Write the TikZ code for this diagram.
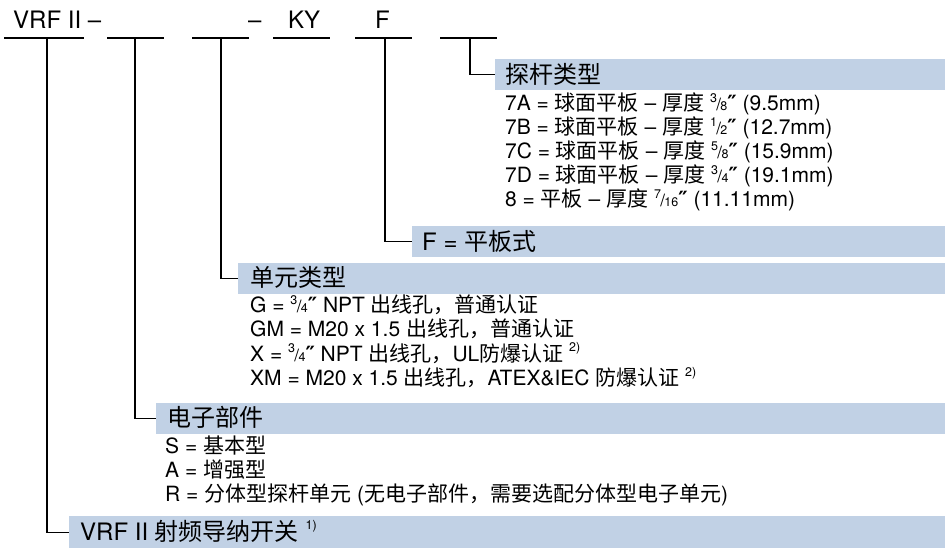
\documentclass[tikz,border=0pt]{standalone}
\usepackage{fontspec}
\setmainfont{TeX Gyre Heros}
\newfontfamily\cjk{Noto Sans CJK SC}
\newfontfamily\dvfont{DejaVu Sans}
\newcommand{\zh}[1]{{\cjk #1}}
\newcommand{\dqm}{{\dvfont\bfseries ″}}
\newcommand{\frc}[2]{\raisebox{0.4em}{\fontsize{12.5}{12.5}\selectfont #1}\kern-0.03em{\fontsize{17}{17}\selectfont /}\kern-0.03em{\fontsize{12.5}{12.5}\selectfont #2}}
\newcommand{\fnote}[1]{\raisebox{0.45em}{\fontsize{12.5}{12.5}\selectfont #1}}
\definecolor{barblue}{RGB}{193,209,229}
\begin{document}
\begin{tikzpicture}[x=1pt,y=-1pt,
  conn/.style={line width=1.3pt, black},
  bar/.style={fill=barblue, draw=none, anchor=north west, minimum height=31pt, inner sep=0pt},
  head/.style={anchor=base west, inner sep=0pt, font=\fontsize{24}{24}\selectfont},
  item/.style={anchor=base west, inner sep=0pt, font=\fontsize{21}{21}\selectfont},
  top/.style={anchor=base west, inner sep=0pt, font=\fontsize{24}{24}\selectfont}]
\useasboundingbox (0,0) rectangle (945,547);

% top row
\node[top] (t1) at (13,28) {VRF II –};
\node[top] (t2) at (248,28) {–};
\node[top] (t3) at (288,28) {KY};
\node[top] (t4) at (375,28) {F};
\draw[conn] (4,38) -- (84,38);
\draw[conn] (107,38) -- (164,38);
\draw[conn] (192,38) -- (249,38);
\draw[conn] (273,38) -- (330,38);
\draw[conn] (355,38) -- (412,38);
\draw[conn] (440,38) -- (497,38);
\coordinate (u1) at (47,38);
\coordinate (u2) at (135,38);
\coordinate (u3) at (221,38);
\coordinate (u5) at (385,38);
\coordinate (u6) at (470,38);

% bars
\node[bar, minimum width=450pt] (b1) at (495,59) {};
\node[bar, minimum width=533pt] (b2) at (412,226) {};
\node[bar, minimum width=707pt] (b3) at (238,263) {};
\node[bar, minimum width=789pt] (b4) at (156,403) {};
\node[bar, minimum width=876pt, minimum height=32pt] (b5) at (69,516) {};

% connectors
\draw[conn] (u6) |- (b1.west);
\draw[conn] (u5) |- (b2.west);
\draw[conn] (u3) |- (b3.west);
\draw[conn] (u2) |- (b4.west);
\draw[conn] (u1) |- (b5.west);

% probe type
\node[head] (h1) at (505,83) {\zh{探杆类型}};
\node[item] (p1) at (505,110.5) {7A = \zh{球面平板} – \zh{厚度} \frc{3}{8}\dqm{} (9.5mm)};
\node[item] (p2) at (505,134.5) {7B = \zh{球面平板} – \zh{厚度} \frc{1}{2}\dqm{} (12.7mm)};
\node[item] (p3) at (505,158.5) {7C = \zh{球面平板} – \zh{厚度} \frc{5}{8}\dqm{} (15.9mm)};
\node[item] (p4) at (505,182.5) {7D = \zh{球面平板} – \zh{厚度} \frc{3}{4}\dqm{} (19.1mm)};
\node[item] (p5) at (505,206.5) {8 = \zh{平板} – \zh{厚度} \frc{7}{16}\dqm{} (11.11mm)};

% F
\node[head] (h2) at (422,250) {F = \zh{平板式}};

% unit type
\node[head] (h3) at (250,286.5) {\zh{单元类型}};
\node[item] (g1) at (250,312.5) {G = \frc{3}{4}\dqm{} NPT \zh{出线孔，普通认证}};
\node[item] (g2) at (250,336.5) {GM = M20 x 1.5 \zh{出线孔，普通认证}};
\node[item] (g3) at (250,361) {X = \frc{3}{4}\dqm{} NPT \zh{出线孔，}UL\zh{防爆认证} \fnote{2)}};
\node[item] (g4) at (250,385.5) {XM = M20 x 1.5 \zh{出线孔，}ATEX\&IEC \zh{防爆认证} \fnote{2)}};

% electronics
\node[head] (h4) at (167,426.5) {\zh{电子部件}};
\node[item] (e1) at (165,453.5) {S = \zh{基本型}};
\node[item] (e2) at (165,477.5) {A = \zh{增强型}};
\node[item] (e3) at (165,501.5) {R = \zh{分体型探杆单元} (\zh{无电子部件，需要选配分体型电子单元})};

% main
\node[head] (h5) at (80,540) {VRF II \zh{射频导纳开关} \fnote{1)}};
\end{tikzpicture}
\end{document}
